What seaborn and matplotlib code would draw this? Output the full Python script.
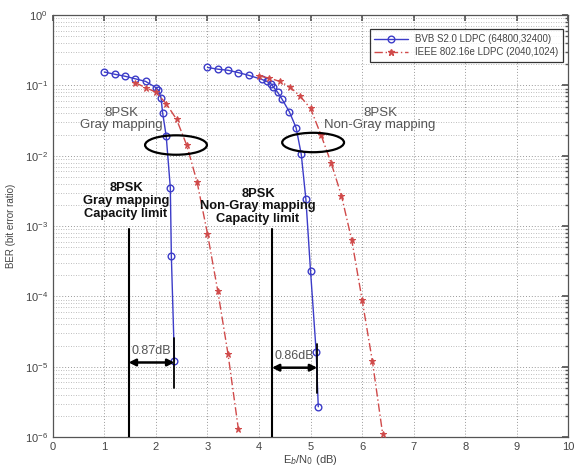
import numpy as np
import pandas as pd
import matplotlib
matplotlib.use("Agg")
import matplotlib.pyplot as plt
import seaborn as sns
from matplotlib.patches import Ellipse
from matplotlib.lines import Line2D
from matplotlib.ticker import LogLocator, NullFormatter, FixedLocator

sns.set_theme(style="white")
plt.rcParams['font.family'] = ['Liberation Sans', 'DejaVu Sans']

# ---- data ----
dvb_gray_x = [1.0, 1.2, 1.4, 1.6, 1.8, 2.0, 2.05, 2.1, 2.13, 2.2, 2.28, 2.3, 2.36]
dvb_gray_y = [0.155, 0.144, 0.135, 0.124, 0.114, 0.093, 0.085, 0.066, 0.041, 0.019, 0.0035, 3.7e-4, 1.2e-5]

ieee_gray_x = [1.6, 1.8, 2.0, 2.2, 2.4, 2.6, 2.8, 3.0, 3.2, 3.4, 3.6]
ieee_gray_y = [0.109, 0.093, 0.080, 0.055, 0.033, 0.014, 0.0042, 7.8e-4, 1.2e-4, 1.5e-5, 1.3e-6]

dvb_ng_x = [3.0, 3.2, 3.4, 3.6, 3.8, 4.05, 4.15, 4.23, 4.28, 4.36, 4.44, 4.59, 4.72, 4.82, 4.91, 5.0, 5.11, 5.15]
dvb_ng_y = [0.18, 0.17, 0.164, 0.152, 0.139, 0.122, 0.114, 0.106, 0.095, 0.080, 0.065, 0.042, 0.025, 0.0105, 0.0024, 2.3e-4, 1.6e-5, 2.7e-6]

ieee_ng_x = [4.0, 4.2, 4.4, 4.6, 4.8, 5.0, 5.2, 5.4, 5.6, 5.8, 6.0, 6.2, 6.4]
ieee_ng_y = [0.136, 0.127, 0.114, 0.095, 0.070, 0.047, 0.020, 0.0079, 0.0027, 6.3e-4, 9e-5, 1.2e-5, 1.1e-6]

series_names = ["BVB S2.0 LDPC (64800,32400)", "IEEE 802.16e LDPC (2040,1024)"]
x_ticks = [0, 1, 2, 3, 4, 5, 6, 7, 8, 9, 10]
cap_limits = [1.47, 4.25]
gaps = ["0.87dB", "0.86dB"]
gap_ends = [2.36, 5.13]

blue = "#3c3cc8"
red = "#d04a4a"
dashdot = (0, (6, 2, 1, 2))

fig = plt.figure(figsize=(5.74, 4.70), dpi=100)
ax = fig.add_axes([0.092, 0.070, 0.898, 0.898])

def df(x, y, seg):
    return pd.DataFrame({"x": x, "y": y, "seg": seg})

d_dvb = pd.concat([df(dvb_gray_x, dvb_gray_y, "g"), df(dvb_ng_x, dvb_ng_y, "n")])
d_ieee = pd.concat([df(ieee_gray_x, ieee_gray_y, "g"), df(ieee_ng_x, ieee_ng_y, "n")])

sns.lineplot(data=d_dvb, x="x", y="y", units="seg", estimator=None, sort=False,
             color=blue, lw=1.0, marker="o", markersize=4.8, markerfacecolor="none",
             markeredgecolor=blue, markeredgewidth=1.0, ax=ax, zorder=3)
n_blue = len(ax.lines)
sns.lineplot(data=d_ieee, x="x", y="y", units="seg", estimator=None, sort=False,
             color=red, lw=1.0, marker="*", markersize=5, markerfacecolor=red,
             markeredgecolor=red, ax=ax, zorder=3)
for ln in ax.lines[n_blue:]:
    ln.set_linestyle(dashdot)

ax.set_yscale("log")
ax.set_xlim(0, 10)
ax.set_ylim(1e-6, 1)
ax.xaxis.set_major_locator(FixedLocator(x_ticks))
ax.set_xticklabels([str(t) for t in x_ticks])
ax.yaxis.set_major_locator(LogLocator(base=10, numticks=10))
ax.yaxis.set_minor_locator(LogLocator(base=10, subs=np.arange(2, 10), numticks=100))
ax.yaxis.set_minor_formatter(NullFormatter())

ax.grid(True, which="major", axis="both", color="#9a9a9a", linestyle=(0, (1, 2)), lw=0.7)
ax.grid(True, which="minor", axis="y", color="#a8a8a8", linestyle=(0, (1, 2)), lw=0.6)
ax.tick_params(which="both", direction="in", top=True, right=True, colors="#555555",
               labelsize=8, labelcolor="#444444")
ax.tick_params(which="major", length=4)
ax.tick_params(which="minor", length=2)
for s in ax.spines.values():
    s.set_color("#555555")
    s.set_linewidth(0.9)

ax.set_xlabel("E$_b$/N$_0$ (dB)", fontsize=8, color="#444444", labelpad=1)
ax.set_ylabel("BER (bit error ratio)", fontsize=7, color="#444444", labelpad=6)

# legend
handles = [Line2D([], [], color=blue, lw=1, marker="o", markerfacecolor="none", markersize=4.8),
           Line2D([], [], color=red, lw=1, linestyle=dashdot, marker="*", markersize=5)]
leg = ax.legend(handles, series_names, loc="upper right", fontsize=7, frameon=True,
                fancybox=False, edgecolor="black", borderpad=0.5, handlelength=3.4,
                labelspacing=0.35, bbox_to_anchor=(1.0, 0.978))
for t in leg.get_texts():
    t.set_color("#444444")
leg.get_frame().set_linewidth(0.9)

# annotations
ax.text(1.33, 0.033, "8PSK\nGray mapping", ha="center", va="center", fontsize=9.5,
        color="#555555", linespacing=1.05)
ax.text(6.35, 0.033, "8PSK\nNon-Gray mapping", ha="center", va="center", fontsize=9.5,
        color="#555555", linespacing=1.05)
ax.text(1.42, 0.0023, "8PSK\nGray mapping\nCapacity limit", ha="center", va="center",
        fontsize=9.3, fontweight="bold", color="#111111", linespacing=1.1)
ax.text(3.98, 0.0019, "8PSK\nNon-Gray mapping\nCapacity limit", ha="center", va="center",
        fontsize=9.3, fontweight="bold", color="#111111", linespacing=1.1)

ax.add_patch(Ellipse((0.239, 0.692), 0.120, 0.046, transform=ax.transAxes,
                     fill=False, edgecolor="black", lw=1.6, zorder=4))
ax.add_patch(Ellipse((0.505, 0.698), 0.120, 0.046, transform=ax.transAxes,
                     fill=False, edgecolor="black", lw=1.6, zorder=4))

arrow_y = [1.15e-5, 9.7e-6]
for xc, xe, lab, ay in zip(cap_limits, gap_ends, gaps, arrow_y):
    ax.plot([xc, xc], [1e-6, 9e-4], color="black", lw=1.5, zorder=4)
    ax.plot([xe, xe], [ay * 2.2, ay / 2.3], color="black", lw=1.3, zorder=4)
    ax.annotate("", xy=(xc, ay), xytext=(xe, ay),
                arrowprops=dict(arrowstyle="<|-|>", color="black", lw=1.8,
                                shrinkA=0, shrinkB=0, mutation_scale=10), zorder=4)
    ax.text((xc + xe) / 2, ay * 1.2, lab, ha="center", va="bottom", fontsize=9,
            color="#555555")

fig.savefig("out.png", dpi=100)
